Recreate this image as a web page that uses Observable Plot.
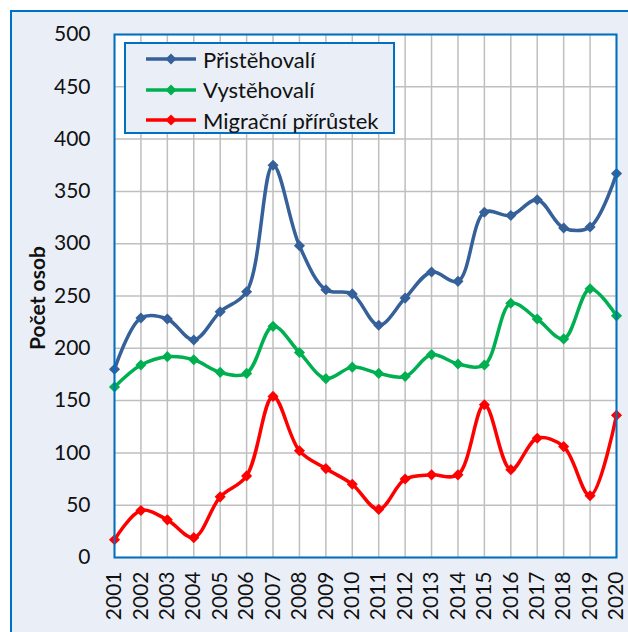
<!DOCTYPE html>
<html>
<head>
<meta charset="utf-8">
<script src="https://cdn.jsdelivr.net/npm/d3@7"></script>
<script src="https://cdn.jsdelivr.net/npm/@observablehq/plot@0.6"></script>
<style>
  html, body { margin: 0; padding: 0; background: #ffffff; }
  body { width: 628px; height: 632px; position: relative; overflow: hidden; font-family: Lato, sans-serif; }
  #frame { position: absolute; left: 10px; top: 10px; width: 660px; height: 660px; border: 2px solid #0070C0; background: #EAEFF7; box-sizing: border-box; }
  #chart { position: absolute; left: 0; top: 0; }
  #ytitle { position: absolute; left: 36px; top: 298px; transform: translate(-50%, -50%) rotate(-90deg); font-weight: bold; font-size: 21px; color: #111; white-space: nowrap; line-height: 1; }
  #legend { position: absolute; left: 124px; top: 42px; width: 271px; height: 92px; border: 2px solid #0070C0; background: #EAEFF7; box-sizing: border-box; }
  .item { position: absolute; left: 19px; height: 30px; display: flex; align-items: center; font-size: 22px; color: #111; }
  .item svg { margin-right: 6px; }
</style>
</head>
<body>
<div id="frame"></div>
<div id="chart"></div>
<div id="ytitle"></div>
<div id="legend"></div>
<script>
const years = [2001,2002,2003,2004,2005,2006,2007,2008,2009,2010,2011,2012,2013,2014,2015,2016,2017,2018,2019,2020];
const pristehovali = [180,229,228,208,235,254,375,298,256,252,222,248,273,264,330,327,342,315,316,367];
const vystehovali  = [163,184,192,189,177,176,221,196,171,182,176,173,194,185,184,243,228,209,257,231];
const prirustek    = [17,45,36,19,58,78,154,102,85,70,46,75,79,79,146,84,114,106,59,136];
const seriesNames = ["Přistěhovalí","Vystěhovalí","Migrační přírůstek"];
const seriesColors = ["#36609A","#00B050","#FF0000"];
const yTicks = [0,50,100,150,200,250,300,350,400,450,500];
const yLabel = "Počet osob";

const seriesValues = [pristehovali, vystehovali, prirustek];
const rows = [];
seriesNames.forEach((s, i) => years.forEach((y, j) => rows.push({series: s, year: y, value: seriesValues[i][j]})));

const chart = Plot.plot({
  width: 628, height: 632,
  marginLeft: 114, marginRight: 12, marginTop: 34, marginBottom: 75,
  style: {background: "transparent", fontFamily: "Lato, sans-serif", color: "#111"},
  x: {type: "linear", domain: [2001, 2020]},
  y: {domain: [0, 500]},
  color: {domain: seriesNames, range: seriesColors},
  marks: [
    Plot.frame({fill: "white"}),
    Plot.gridX(years, {stroke: "#BFBFBF", strokeOpacity: 1, strokeWidth: 1.5}),
    Plot.gridY(yTicks, {stroke: "#BFBFBF", strokeOpacity: 1, strokeWidth: 1.5}),
    Plot.axisX(years, {tickSize: 0, tickPadding: 14, tickRotate: -90, tickFormat: d => String(d), fontSize: 21, label: null}),
    Plot.axisY(yTicks, {tickSize: 0, tickPadding: 24, fontSize: 21, label: null}),
    Plot.line(rows, {x: "year", y: "value", z: "series", stroke: "series", strokeWidth: 3.5, curve: "catmull-rom"}),
    Plot.dot(rows, {x: "year", y: "value", fill: "series", symbol: "diamond2", r: 5}),
    Plot.frame({stroke: "#0070C0", strokeWidth: 2})
  ]
});
document.getElementById("chart").appendChild(chart);
document.getElementById("ytitle").textContent = yLabel;

const legend = document.getElementById("legend");
seriesNames.forEach((name, i) => {
  const div = document.createElement("div");
  div.className = "item";
  div.style.top = (0 + i * 30.5) + "px";
  div.innerHTML = `<svg width="52" height="14"><line x1="1" y1="7" x2="51" y2="7" stroke="${seriesColors[i]}" stroke-width="3.5"/><path d="M26,1.5L31.5,7L26,12.5L20.5,7Z" fill="${seriesColors[i]}"/></svg><span>${name}</span>`;
  legend.appendChild(div);
});
</script>
</body>
</html>
